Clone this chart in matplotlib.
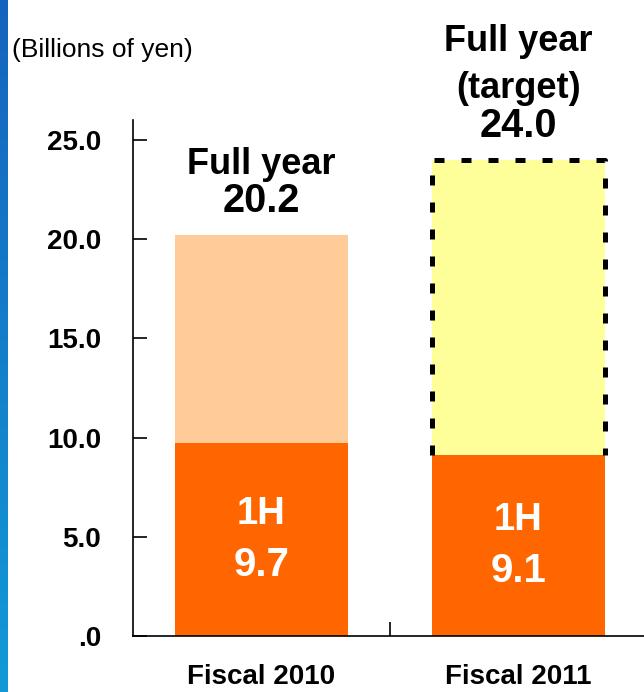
import numpy as np
import matplotlib
matplotlib.use('Agg')
import matplotlib.pyplot as plt
from matplotlib.colors import LinearSegmentedColormap

plt.rcParams['font.family'] = ['Liberation Sans', 'DejaVu Sans']

# data (billions of yen)
categories = ['Fiscal 2010', 'Fiscal 2011']
first_half = [9.7, 9.1]
full_year = [20.2, 24.0]
top_labels = ['Full year', 'Full year\n(target)']
half_label = '1H'
yticks = [0, 5, 10, 15, 20, 25]
ytick_labels = ['.0', '5.0', '10.0', '15.0', '20.0', '25.0']

orange = '#ff6600'
rest_colors = ['#ffcc99', '#ffff99']

fig = plt.figure(figsize=(6.44, 6.92), dpi=100)

# blue strip at the left edge
strip = fig.add_axes([0, 0, 8 / 644, 1])
grad = np.linspace(0, 1, 256).reshape(-1, 1)
cmap = LinearSegmentedColormap.from_list('strip', ['#1663be', '#129ad6'])
strip.imshow(grad, aspect='auto', cmap=cmap)
strip.axis('off')

ax = fig.add_axes([133 / 644, 56 / 692, 514 / 644, 516 / 692])
x = np.arange(1, len(categories) + 1)
w = 0.67
rest = np.array(full_year) - np.array(first_half)

ax.bar(x, first_half, width=w, color=orange, zorder=2)
ax.bar(x, rest, bottom=first_half, width=w, color=rest_colors, zorder=2)

# dashed outline around the target part of fiscal 2011
x0 = x[1]
ax.plot([x0 - w / 2, x0 - w / 2, x0 + w / 2, x0 + w / 2],
        [first_half[1], full_year[1], full_year[1], first_half[1]],
        color='black', linewidth=3.6, linestyle=(0, (2, 3.4)),
        solid_capstyle='butt', dash_capstyle='butt', zorder=3, clip_on=False)

for i in range(len(categories)):
    # full year value + label above the bar
    ax.annotate(f'{full_year[i]:.1f}', (x[i], full_year[i]), xytext=(0, 34),
                textcoords='offset pixels', ha='center', va='center',
                fontsize=28.5, fontweight='bold', annotation_clip=False)
    lines = top_labels[i].split('\n')[::-1]
    for k, line in enumerate(lines):
        ax.annotate(line, (x[i], full_year[i]), xytext=(0, 71 + 47 * k),
                    textcoords='offset pixels', ha='center', va='center',
                    fontsize=26, fontweight='bold', annotation_clip=False)
    # first half label inside the orange bar
    ax.annotate(half_label, (x[i], first_half[i] / 2), xytext=(0, 26),
                textcoords='offset pixels', ha='center', va='center',
                fontsize=27.5, fontweight='bold', color='white')
    ax.annotate(f'{first_half[i]:.1f}', (x[i], first_half[i] / 2), xytext=(0, -25),
                textcoords='offset pixels', ha='center', va='center',
                fontsize=29, fontweight='bold', color='white')

ax.set_xlim(0.5, 2.5)
ax.set_ylim(0, 26)
ax.set_yticks(yticks)
ax.set_yticklabels(ytick_labels, fontsize=20, fontweight='bold')
ax.set_xticks(x)
ax.set_xticklabels(categories, fontsize=20, fontweight='bold')
ax.set_xticks([1.5], minor=True)
ax.tick_params(axis='y', direction='in', length=10, width=1.2, pad=23)
ax.tick_params(axis='x', which='major', length=0, pad=20)
ax.tick_params(axis='x', which='minor', direction='in', length=10, width=1.2)
for s in ['top', 'right']:
    ax.spines[s].set_visible(False)
for s in ['left', 'bottom']:
    ax.spines[s].set_linewidth(1.2)

fig.text(12 / 644, 1 - 50 / 692, '(Billions of yen)', fontsize=19, va='center', ha='left')

fig.savefig('out.png', dpi=100)
